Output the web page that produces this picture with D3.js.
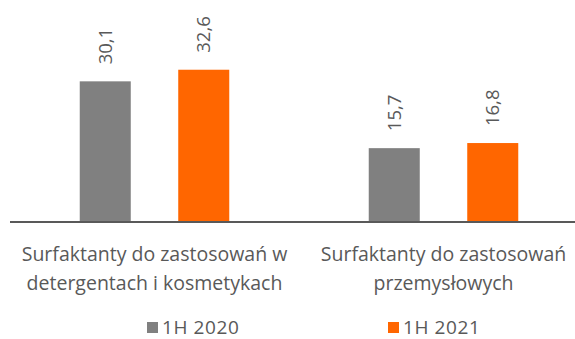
<!DOCTYPE html>
<html>
<head>
<meta charset="utf-8">
<script src="https://cdn.jsdelivr.net/npm/d3@7"></script>
<style>
  html, body { margin: 0; padding: 0; background: #fff; }
  svg { display: block; }
  text { font-family: "Open Sans", "Noto Sans", sans-serif; fill: #595959; }
</style>
</head>
<body>
<svg id="chart" width="575" height="339"></svg>
<script>
const categories = [
  ["Surfaktanty do zastosowań w", "detergentach i kosmetykach"],
  ["Surfaktanty do zastosowań", "przemysłowych"]
];
const seriesNames = ["1H 2020", "1H 2021"];
const values2020 = [30.1, 15.7];
const values2021 = [32.6, 16.8];
const seriesColors = ["#808080", "#FF6600"];

const W = 575, H = 339;
const svg = d3.select("#chart");
const catKeys = categories.map((c, i) => i);

const x0 = d3.scaleBand().domain(catKeys).range([10, 588]).paddingInner(0).paddingOuter(0);
const x1 = d3.scaleBand().domain(seriesNames).range([46, 243]).paddingInner(0.482).paddingOuter(0.241);
const y = d3.scaleLinear().domain([0, 40]).range([221, 35.4]);

const fmt = v => String(v).replace(".", ",");
const series = [values2020, values2021];

const groups = svg.selectAll("g.grp").data(catKeys).join("g")
  .attr("class", "grp")
  .attr("transform", d => `translate(${x0(d)},0)`);

seriesNames.forEach((s, si) => {
  groups.append("rect")
    .attr("x", d => x1(s))
    .attr("width", x1.bandwidth())
    .attr("y", d => y(series[si][d]))
    .attr("height", d => y(0) - y(series[si][d]))
    .attr("fill", seriesColors[si]);
  groups.append("text")
    .attr("transform", d => `translate(${x1(s) + x1.bandwidth() / 2},${y(series[si][d]) - 17}) rotate(-90)`)
    .attr("dy", "0.35em")
    .attr("text-anchor", "start")
    .style("font-size", "18.5px")
    .text(d => fmt(series[si][d]));
});

// axis baseline
svg.append("line")
  .attr("x1", 10).attr("x2", 575)
  .attr("y1", 222).attr("y2", 222)
  .attr("stroke", "#595959").attr("stroke-width", 2);

// category labels
const lbl = svg.selectAll("text.cat").data(catKeys).join("text")
  .attr("class", "cat")
  .attr("text-anchor", "middle")
  .style("font-size", "19.5px");
lbl.each(function(d) {
  const t = d3.select(this);
  categories[d].forEach((line, li) => {
    t.append("tspan")
      .attr("x", x0(d) + x0.bandwidth() / 2)
      .attr("y", 261 + li * 29)
      .text(line);
  });
});

// legend
const legendX = [147, 388];
const leg = svg.selectAll("g.leg").data(seriesNames).join("g")
  .attr("class", "leg")
  .attr("transform", (d, i) => `translate(${legendX[i]},0)`);
leg.append("rect").attr("x", 0).attr("y", 322).attr("width", 11).attr("height", 11)
  .attr("fill", (d, i) => seriesColors[i]);
leg.append("text").attr("x", 15).attr("y", 333.5)
  .style("font-size", "19px")
  .style("letter-spacing", "0.6px")
  .text(d => d);
</script>
</body>
</html>
